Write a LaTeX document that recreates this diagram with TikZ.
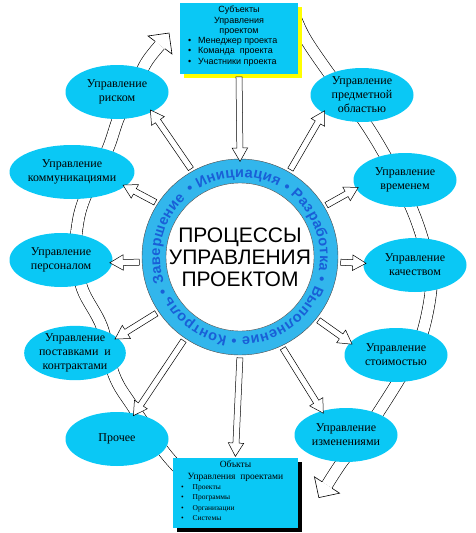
\documentclass[tikz,border=0pt]{standalone}
\usepackage{fontspec}
\setmainfont{Liberation Serif}
\setsansfont{Liberation Sans}
\usepackage{xcolor}
\usepackage{tikz}
\usetikzlibrary{shapes,arrows,positioning,calc,shadows,decorations.text}

\definecolor{areacyan}{RGB}{10,200,245}
\definecolor{ringblue}{RGB}{50,182,236}
\definecolor{ringtext}{RGB}{25,95,215}
\definecolor{shadowyellow}{RGB}{255,255,0}

\tikzstyle{area} = [ellipse, fill=areacyan, minimum width=103pt, minimum height=54pt, inner sep=0pt, align=center, font=\fontsize{12}{14}\selectfont]
\tikzstyle{flow} = [single arrow, draw, fill=white, line width=0.5pt, inner sep=0pt, inner ysep=2.8pt, single arrow head extend=4.7pt, single arrow tip angle=60, outer sep=0pt]
\tikzstyle{band} = [double, double distance=11pt, line width=0.6pt]
\tikzstyle{head} = [draw, fill=white, line width=0.6pt, line join=miter]
\tikzstyle{subjbox} = [rectangle, fill=areacyan, minimum width=118pt, minimum height=71pt, drop shadow={shadow xshift=4pt, shadow yshift=-4pt, fill=shadowyellow, opacity=1}]
\tikzstyle{objbox} = [rectangle, fill=areacyan, minimum width=125pt, minimum height=70pt, drop shadow={shadow xshift=4pt, shadow yshift=-4pt, fill=black, opacity=1}]
\tikzstyle{subjtext} = [inner sep=0pt, align=center, font=\fontsize{9}{10.5}\selectfont\sffamily]
\tikzstyle{objtext} = [inner sep=0pt, align=center, font=\fontsize{9.5}{12}\selectfont]
\tikzstyle{objitems} = [inner sep=0pt, font=\fontsize{7.5}{10.3}\selectfont]
\tikzstyle{hubtext} = [align=center, font=\fontsize{21}{22}\selectfont\sffamily]

% hollow arrow from #1 to #2
\newcommand{\flowarrow}[2]{%
    \path let \p1 = ($(#2)-(#1)$), \n1 = {atan2(\y1,\x1)}, \n2 = {veclen(\x1,\y1)} in
        node [flow, minimum height=\n2, rotate=\n1] at ($(#1)!0.5!(#2)$) {};
}
% open head at the end of a band
\newcommand{\bandhead}[2]{%
    \draw [head, shift={(#1)}, rotate=#2] (0,6.1) -- (0,15) -- (15,0) -- (0,-15) -- (0,-6.1);
}

\begin{document}
\begin{tikzpicture}[x=1pt, y=1pt]
    \useasboundingbox (0,0) rectangle (475,-533);

    % the two big bands
    \coordinate (lefttail) at (190,-480);
    \coordinate (lefttip) at (160,-45);
    \coordinate (righttail) at (294,-14);
    \coordinate (righttip) at (327,-485);
    \draw [band] plot [smooth, tension=0.6] coordinates {(lefttail) (165,-453) (133,-407) (114,-375) (102,-327) (82,-288) (76,-250) (78,-222) (84,-200) (97,-172) (109,-146) (119,-117) (133,-90) (146,-63) (lefttip)};
    \bandhead{lefttip}{53}
    \draw [band] plot [smooth, tension=0.6] coordinates {(righttail) (305,-38) (328,-72) (352,-104) (373,-135) (393,-170) (411,-207) (422,-237) (429,-265) (431,-290) (423,-331) (410,-360) (397,-383) (378,-413) (360,-440) (342,-462) (righttip)};
    \bandhead{righttip}{-123}

    % boxes
    \node [subjbox] (subj) at (239,-38.5) {};
    \node [subjtext, below=3pt of subj.north] (subjhead) {Субъекты\\Управления\\проектом};
    \node [subjtext, anchor=north west] (subjlist) at ([xshift=8pt]subj.west |- subjhead.south) {%
        \begin{tabular}{@{}l@{\hspace{7pt}}l@{}}\textbullet & Менеджер проекта\\ \textbullet & Команда~ проекта\\ \textbullet & Участники проекта\end{tabular}};

    \node [objbox] (obj) at (235.5,-493) {};
    \node [objtext, below=3pt of obj.north] (objhead) {Объкты\\Управления~~проектами};
    \node [objitems, anchor=north west] (objlist) at ([xshift=8pt]obj.west |- objhead.south) {%
        \begin{tabular}{@{}l@{\hspace{9pt}}l@{}}\textbullet & Проекты\\ \textbullet & Программы\\ \textbullet & Организации\\ \textbullet & Системы\end{tabular}};

    % areas
    \node [area] (risk) at (117,-92) {Управление\\риском};
    \node [area] (comm) at (72,-172) {Управление\\коммуникациями};
    \node [area] (staff) at (61,-260) {Управление\\персоналом};
    \node [area, minimum width=98pt] (supply) at (75,-353) {Управление\\поставками~ и\\контрактами};
    \node [area] (other) at (117,-439) {Прочее};
    \node [area] (scope) at (362,-95) {Управление\\предметной\\областью};
    \node [area] (time) at (405,-180) {Управление\\временем};
    \node [area] (quality) at (415,-265) {Управление\\качеством};
    \node [area] (cost) at (396,-355) {Управление\\стоимостью};
    \node [area] (change) at (346,-435) {Управление\\изменениями};

    % ring
    \node [circle, fill=ringblue, draw=black!70, line width=0.4pt, minimum size=196pt, inner sep=0pt] (ring) at (240,-257) {};
    \node [circle, fill=white, draw=black!70, line width=0.4pt, minimum size=148pt, inner sep=0pt] (hub) at (ring) {};
    \path [decorate, decoration={text along path, text color=ringtext, text align=fit to path,
        text={|\fontsize{14.5}{16}\selectfont\sffamily\bfseries|• Инициация • Разработка • Выполнение • Контроль • Завершение}}]
        ([shift={(128:80)}]ring.center) arc [start angle=128, end angle=-227, radius=80];
    \node [hubtext] (title) at (ring) {ПРОЦЕССЫ\\УПРАВЛЕНИЯ\\ПРОЕКТОМ};

    % arrows
    \coordinate (objtop) at ([yshift=4pt]obj.north);
    \flowarrow{subj.south}{ring.north}
    \flowarrow{ring.south}{objtop}
    \flowarrow{ring.119}{risk.-30}
    \flowarrow{ring.147}{comm.-15}
    \flowarrow{ring.183}{staff.-3}
    \flowarrow{ring.214}{supply.20}
    \flowarrow{ring.236}{other.55}
    \flowarrow{ring.60}{scope.205}
    \flowarrow{ring.31}{time.190}
    \flowarrow{ring.-3}{quality.178}
    \flowarrow{ring.-39}{cost.165}
    \flowarrow{ring.-65}{change.135}
\end{tikzpicture}
\end{document}
